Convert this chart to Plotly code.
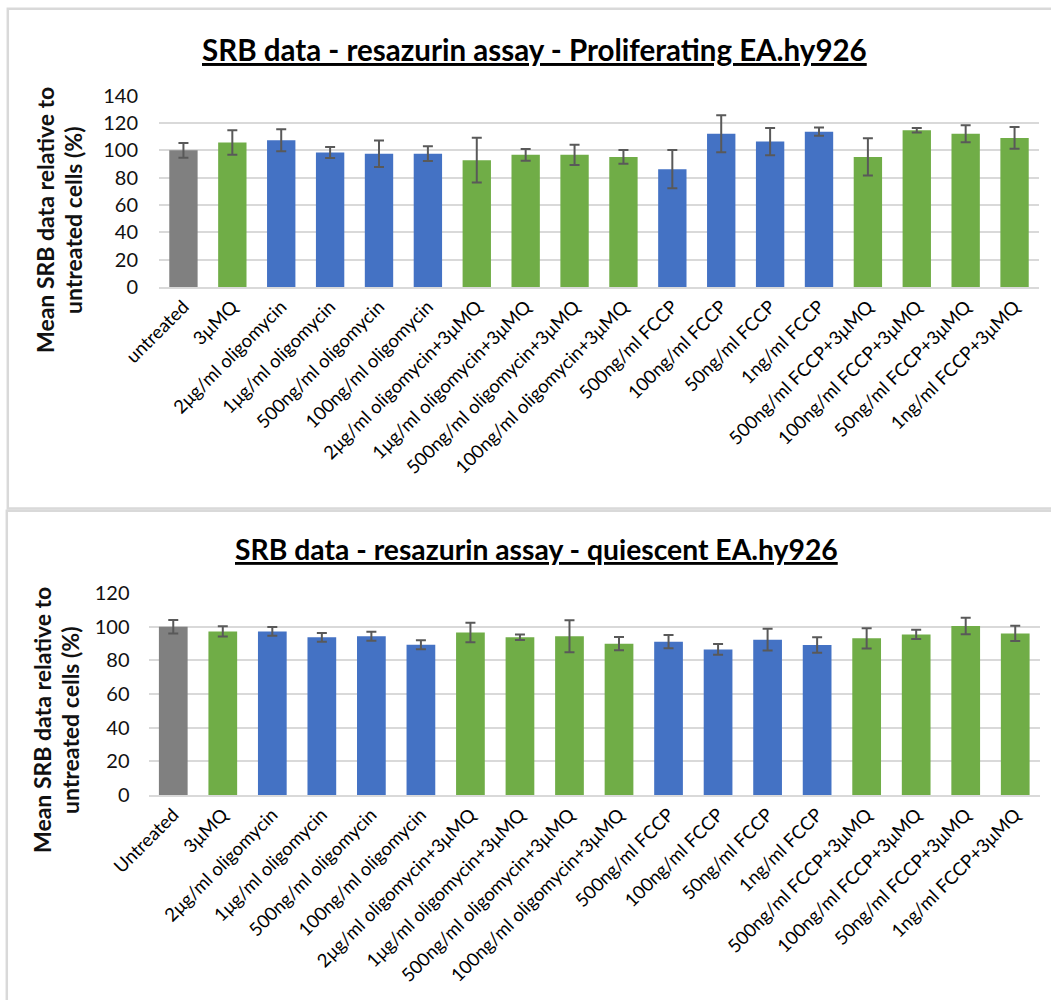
import plotly.graph_objects as go

# Treatment groups (x-axis categories)
categories_prolif = [
    "untreated", "3μMQ", "2μg/ml oligomycin", "1μg/ml oligomycin",
    "500ng/ml oligomycin", "100ng/ml oligomycin", "2μg/ml oligomycin+3μMQ",
    "1μg/ml oligomycin+3μMQ", "500ng/ml oligomycin+3μMQ",
    "100ng/ml oligomycin+3μMQ", "500ng/ml FCCP", "100ng/ml FCCP",
    "50ng/ml FCCP", "1ng/ml FCCP", "500ng/ml FCCP+3μMQ",
    "100ng/ml FCCP+3μMQ", "50ng/ml FCCP+3μMQ", "1ng/ml FCCP+3μMQ",
]
categories_quies = ["Untreated"] + categories_prolif[1:]

# Mean SRB signal relative to untreated cells (%) and error (±)
prolif_mean = [100, 105.7, 107.4, 98.4, 97.6, 97.6, 92.8, 96.7, 96.7,
               95.2, 86.2, 112.2, 106.4, 113.7, 95.2, 114.7, 112.2, 109.1]
prolif_err = [5.4, 9.0, 8.0, 4.0, 9.7, 5.4, 16.4, 4.3, 7.4,
              5.0, 14.0, 13.5, 9.9, 3.0, 13.6, 1.6, 6.2, 8.0]

quies_mean = [100, 97.2, 97.2, 93.7, 94.3, 89.3, 96.6, 93.7, 94.3,
              89.9, 91.1, 86.5, 92.3, 89.1, 93.1, 95.4, 100.4, 96.0]
quies_err = [4.0, 3.0, 2.6, 2.6, 2.7, 2.7, 5.8, 1.6, 9.5,
             3.9, 3.9, 3.2, 6.4, 4.6, 6.0, 2.7, 4.9, 4.5]

# Bar fill per treatment type
GRAY, GREEN, BLUE = "#808080", "#70AD47", "#4472C4"
bar_colors = [GRAY, GREEN] + [BLUE] * 4 + [GREEN] * 4 + [BLUE] * 4 + [GREEN] * 4

W, H = 1051, 1000
FONT = "Lato, 'Open Sans', Arial, sans-serif"
GRID = "#D9D9D9"
ERR = "#595959"


def px(x):
    return x / W


def py(y):
    return 1 - y / H


fig = go.Figure()

fig.add_trace(go.Bar(
    x=categories_prolif, y=prolif_mean,
    marker=dict(color=bar_colors, line=dict(width=0)),
    error_y=dict(type="data", array=prolif_err, color=ERR, thickness=2, width=5),
    xaxis="x", yaxis="y", showlegend=False,
))
fig.add_trace(go.Bar(
    x=categories_quies, y=quies_mean,
    marker=dict(color=bar_colors, line=dict(width=0)),
    error_y=dict(type="data", array=quies_err, color=ERR, thickness=2, width=5),
    xaxis="x2", yaxis="y2", showlegend=False,
))

xcommon = dict(
    type="category", tickangle=-45, showgrid=False, ticks="",
    showline=True, linecolor=GRID, linewidth=1.5, automargin=False,
    tickfont=dict(family=FONT, size=18.5, color="#000000"),
)
ycommon = dict(
    dtick=20, showgrid=True, gridcolor=GRID, gridwidth=1.5,
    zeroline=False, showline=False, ticks="", automargin=False,
    tickfont=dict(family=FONT, size=20, color="#111111"),
)

fig.update_layout(
    template="none",
    width=W, height=H,
    margin=dict(l=0, r=0, t=0, b=0, autoexpand=False),
    paper_bgcolor="white", plot_bgcolor="white",
    bargap=0.42,
    xaxis=dict(domain=[px(159), px(1039)], anchor="y", **xcommon),
    yaxis=dict(domain=[py(287), py(95.7)], range=[0, 140], anchor="x",
               ticklabelstandoff=20, **ycommon),
    xaxis2=dict(domain=[px(148.5), px(1040)], anchor="y2", **xcommon),
    yaxis2=dict(domain=[py(795), py(593)], range=[0, 120], anchor="x2",
                ticklabelstandoff=18, **ycommon),
)

# Chart panel frames
fig.add_shape(type="rect", xref="paper", yref="paper",
              x0=px(7.8), x1=px(1070), y0=py(508.5), y1=py(8.7),
              line=dict(color=GRID, width=2.5), fillcolor="rgba(0,0,0,0)", layer="below")
fig.add_shape(type="rect", xref="paper", yref="paper",
              x0=px(6.8), x1=px(1070), y0=py(1020), y1=py(510.8),
              line=dict(color=GRID, width=2.5), fillcolor="rgba(0,0,0,0)", layer="below")

# Titles
titles = [
    ("SRB data - resazurin assay - Proliferating EA.hy926", 534, 49, 29.5),
    ("SRB data - resazurin assay - quiescent EA.hy926", 536, 548.5, 28.3),
]
for text, xpix, ypix, size in titles:
    fig.add_annotation(
        text=f"<u><b>{text}</b></u>", xref="paper", yref="paper",
        x=px(xpix), y=py(ypix), xanchor="center", yanchor="middle",
        showarrow=False, font=dict(family=FONT, size=size, color="#000000"),
    )

# Y-axis titles
ytitle_lines = ["Mean SRB data relative to", "untreated cells (%)"]
for (x1, x2, yc) in [(45, 73, 220), (42, 70, 720)]:
    for xline, line in zip((x1, x2), ytitle_lines):
        fig.add_annotation(
            text=f"<b>{line}</b>", xref="paper", yref="paper",
            x=px(xline), y=py(yc), xanchor="center", yanchor="middle",
            textangle=-90, showarrow=False,
            font=dict(family=FONT, size=23, color="#111111"),
        )

fig.write_html("out.html")
